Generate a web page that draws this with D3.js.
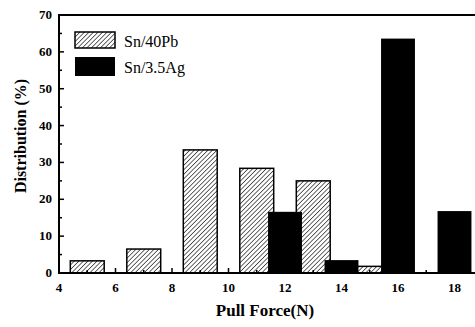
<!DOCTYPE html>
<html>
<head>
<meta charset="UTF-8">
<script src="https://d3js.org/d3.v7.min.js"></script>
<style>
  body { margin: 0; background: #fff; }
  svg { display: block; }
  text { font-family: "Liberation Serif", "DejaVu Serif", serif; fill: #000; }
  .tick-label { font-size: 13px; font-weight: bold; }
  .axis-title { font-size: 16px; font-weight: bold; }
  .legend-text { font-size: 16px; }
</style>
</head>
<body>
<div id="chart"></div>
<script>
// Sn/40Pb (hatched) bins at odd forces, Sn/3.5Ag (solid) bins at even forces
const pbForces = [5, 7, 9, 11, 13, 15];
const pbValues = [3.3, 6.5, 33.4, 28.4, 25.0, 1.8];
const agForces = [12, 14, 16, 18];
const agValues = [16.6, 3.5, 63.6, 16.8];
const seriesNames = ['Sn/40Pb', 'Sn/3.5Ag'];
const xTicks = [4, 6, 8, 10, 12, 14, 16, 18];
const yTicks = [0, 10, 20, 30, 40, 50, 60, 70];

const W = 475, H = 327;
const margin = { top: 15, left: 59, bottom: 54 };
const barW = 1.2; // bin width in force units

const svg = d3.select('#chart').append('svg')
  .attr('width', W)
  .attr('height', H);

const x = d3.scaleLinear().domain([4, 19.5]).range([margin.left, margin.left + 15.5 * 28.25]);
const y = d3.scaleLinear().domain([0, 70]).range([H - margin.bottom, margin.top]);

// hatch pattern
const defs = svg.append('defs');
const pat = defs.append('pattern')
  .attr('id', 'hatch')
  .attr('patternUnits', 'userSpaceOnUse')
  .attr('width', 3.2).attr('height', 3.2)
  .attr('patternTransform', 'rotate(45)');
pat.append('rect').attr('width', 3.2).attr('height', 3.2).attr('fill', '#fff');
pat.append('line')
  .attr('x1', 0).attr('y1', 0).attr('x2', 0).attr('y2', 3.2)
  .attr('stroke', '#000').attr('stroke-width', 1.2);

// bars
svg.selectAll('.pb')
  .data(pbForces)
  .enter().append('rect')
  .attr('class', 'pb')
  .attr('x', d => x(d - barW / 2))
  .attr('y', (d, i) => y(pbValues[i]))
  .attr('width', d => x(d + barW / 2) - x(d - barW / 2))
  .attr('height', (d, i) => y(0) - y(pbValues[i]))
  .attr('fill', 'url(#hatch)')
  .attr('stroke', '#000')
  .attr('stroke-width', 1.5);

svg.selectAll('.ag')
  .data(agForces)
  .enter().append('rect')
  .attr('class', 'ag')
  .attr('x', d => x(d - barW / 2))
  .attr('y', (d, i) => y(agValues[i]))
  .attr('width', d => x(d + barW / 2) - x(d - barW / 2))
  .attr('height', (d, i) => y(0) - y(agValues[i]))
  .attr('fill', '#000');

// axes: frame lines with inward ticks
const x0 = x.range()[0], x1 = x.range()[1];
const y0 = y(0), y1 = y(70);

svg.append('line').attr('x1', x0).attr('x2', x1).attr('y1', y0).attr('y2', y0)
  .attr('stroke', '#000').attr('stroke-width', 2);
svg.append('line').attr('x1', x0).attr('x2', x1).attr('y1', y1).attr('y2', y1)
  .attr('stroke', '#000').attr('stroke-width', 2);
svg.append('line').attr('x1', x0).attr('x2', x0).attr('y1', y0 + 1).attr('y2', y1 - 1)
  .attr('stroke', '#000').attr('stroke-width', 2);

// y ticks
const yMinor = d3.range(5, 70, 10);
svg.selectAll('.ytick').data(yTicks).enter().append('line')
  .attr('x1', x0).attr('x2', x0 + 5)
  .attr('y1', d => y(d)).attr('y2', d => y(d))
  .attr('stroke', '#000').attr('stroke-width', 1.5);
svg.selectAll('.yminor').data(yMinor).enter().append('line')
  .attr('x1', x0).attr('x2', x0 + 3)
  .attr('y1', d => y(d)).attr('y2', d => y(d))
  .attr('stroke', '#000').attr('stroke-width', 1.5);
svg.selectAll('.ylab').data(yTicks).enter().append('text')
  .attr('class', 'tick-label')
  .attr('x', x0 - 7)
  .attr('y', d => y(d) + 4)
  .attr('text-anchor', 'end')
  .text(d => d);

// x ticks
const xMinor = d3.range(5, 19, 2);
svg.selectAll('.xtick').data(xTicks).enter().append('line')
  .attr('x1', d => x(d)).attr('x2', d => x(d))
  .attr('y1', y0).attr('y2', y0 - 5)
  .attr('stroke', '#000').attr('stroke-width', 1.5);
svg.selectAll('.xminor').data(xMinor).enter().append('line')
  .attr('x1', d => x(d)).attr('x2', d => x(d))
  .attr('y1', y0).attr('y2', y0 - 3)
  .attr('stroke', '#000').attr('stroke-width', 1.5);
svg.selectAll('.xlab').data(xTicks).enter().append('text')
  .attr('class', 'tick-label')
  .attr('x', d => x(d))
  .attr('y', y0 + 19)
  .attr('text-anchor', 'middle')
  .text(d => d);

// axis titles
svg.append('text')
  .attr('class', 'axis-title')
  .attr('x', 265)
  .attr('y', 316)
  .attr('text-anchor', 'middle')
  .style('font-size', '17px')
  .text('Pull Force(N)');

svg.append('text')
  .attr('class', 'axis-title')
  .attr('transform', 'translate(26,136) rotate(-90)')
  .attr('text-anchor', 'middle')
  .text('Distribution (%)');

// legend
const legend = svg.append('g').attr('transform', 'translate(75,32)');
legend.append('rect').attr('x', 0).attr('y', 0).attr('width', 40).attr('height', 16)
  .attr('fill', 'url(#hatch)').attr('stroke', '#000').attr('stroke-width', 1.5);
legend.append('rect').attr('x', 0).attr('y', 25).attr('width', 40).attr('height', 19)
  .attr('fill', '#000');
legend.selectAll('.legend-text').data(seriesNames).enter().append('text')
  .attr('class', 'legend-text')
  .attr('x', 49)
  .attr('y', (d, i) => 15 + i * 26)
  .text(d => d);
</script>
</body>
</html>
